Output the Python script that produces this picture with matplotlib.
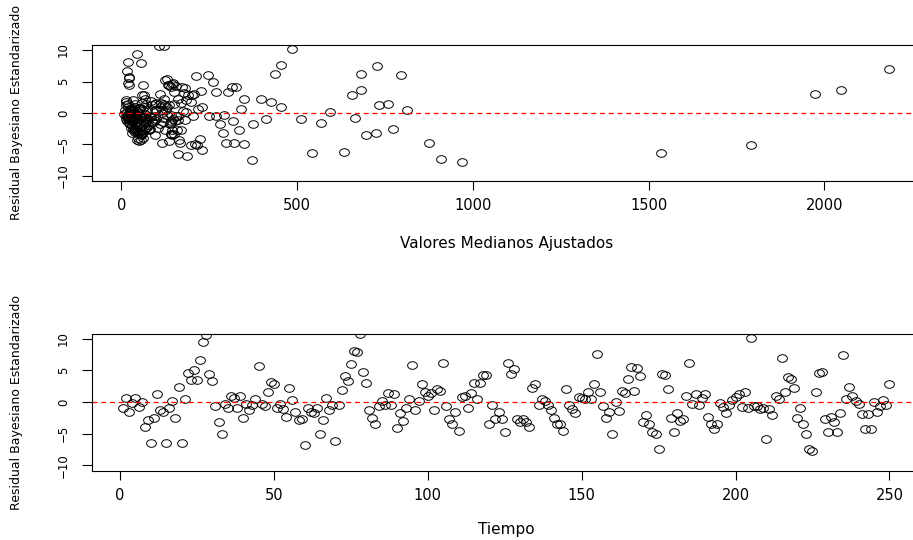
import numpy as np
import matplotlib
matplotlib.use('Agg')
import matplotlib.pyplot as plt
from matplotlib.path import Path

plt.rcParams['font.family'] = ['DejaVu Sans']

# residuos bayesianos estandarizados, uno por periodo (t = 1..250)
tiempo = np.arange(1, 251)
residuos = [
    -1.0, 0.65, -1.5, -0.2, 0.65, -0.8, -0.05, -3.9, -2.8, -6.5,
    -2.6, 1.3, -1.25, -1.6, -6.4, -0.9, 0.1, -2.5, 2.3, -6.4,
    0.55, 4.5, 3.4, 5.0, 3.5, 6.6, 9.4, 10.6, 4.4, 3.3,
    -0.7, -3.2, -5.0, -0.3, -1.0, 0.9, 0.65, -1.0, 0.9, -2.5,
    -0.3, -1.2, -0.4, 0.55, 5.7, -0.3, -0.7, 1.5, 3.1, 2.9,
    -0.9, -0.3, -1.15, -2.3, 2.2, 0.3, -1.5, -2.8, -2.7, -6.8,
    -1.0, -1.5, -1.8, -1.0, -5.1, -2.9, 0.7, -1.25, -0.4, -6.2,
    -0.4, 1.9, 4.1, 3.3, 6.0, 8.1, 7.9, 10.7, 4.7, 3.05,
    -1.3, -2.45, -3.4, -0.7, 0.15, -0.5, 1.35, -0.55, 1.2, -4.1,
    -1.8, -3.05, -1.0, 0.45, 5.8, -1.3, 0.15, 2.9, 1.6, 0.9,
    1.35, -1.3, 2.0, 1.7, 6.1, -0.7, -2.7, -3.4, -1.6, -4.5,
    0.75, 1.0, -0.9, 1.35, 3.0, 0.55, 3.05, 4.2, 4.2, -3.5,
    -0.55, -2.7, -1.6, -2.7, -4.7, 6.2, 4.4, 5.2, -2.7, -3.1,
    -2.7, -3.1, -3.9, 2.2, 2.9, -0.45, 0.4, 0.15, -0.4, -1.25,
    -2.45, -3.5, -3.5, -4.5, 2.1, -0.5, -1.15, -1.8, 0.8, 0.7,
    0.4, 1.5, 0.4, 2.9, 7.6, 1.65, -0.7, -2.55, -1.5, -5.1,
    -0.05, -1.4, 1.7, 1.35, 3.65, 5.5, 1.75, 5.4, 4.1, -3.1,
    -2.05, -3.4, -4.8, -5.0, -7.35, 4.4, 4.3, 2.0, -2.55, -4.75,
    -1.7, -3.0, -2.7, 0.9, 6.2, -0.3, 1.2, -0.55, 0.6, 1.3,
    -2.35, -3.5, -4.25, -3.4, -0.15, -0.8, -1.75, -0.4, 0.3, 0.8,
    1.25, -0.8, 1.5, -0.9, 10.1, -0.7, -0.6, -1.15, -1.0, -5.9,
    -1.1, -2.0, 1.0, 0.5, 7.0, 1.65, 3.9, 3.65, 2.2, -2.55,
    -1.0, -3.4, -5.1, -7.45, -7.8, 1.65, 4.6, 4.75, -2.7, -4.8,
    -2.35, -3.15, -4.7, -1.8, 7.45, 0.5, 2.3, 0.9, 0.15, -0.3,
    -1.9, -4.25, -1.9, -4.25, -0.05, -1.6, -0.7, 0.3, -0.45, 2.9,
]

# valores medianos ajustados del modelo, en el mismo orden
ajustados = [
    12, 30, 45, 8, 60, 18, 25, 48, 35, 162,
    40, 14, 70, 22, 542, 52, 36, 80, 397, 1534,
    95, 135, 150, 261, 226, 17, 46, 106, 62, 304,
    28, 58, 350, 293, 75, 110, 340, 42, 20, 66,
    130, 15, 55, 10, 21, 38, 85, 120, 178, 190,
    33, 140, 26, 72, 160, 44, 90, 46, 145, 188,
    19, 63, 38, 100, 215, 56, 24, 48, 12, 633,
    160, 85, 172, 270, 248, 20, 55, 121, 148, 110,
    32, 105, 60, 52, 16, 78, 40, 27, 125, 225,
    374, 44, 66, 812, 212, 319, 595, 60, 170, 36,
    95, 142, 13, 198, 795, 58, 336, 150, 569, 137,
    50, 230, 412, 760, 208, 30, 1974, 314, 140, 697,
    250, 170, 42, 64, 299, 438, 22, 125, 78, 289,
    158, 50, 62, 68, 200, 18, 115, 48, 270, 152,
    35, 145, 55, 50, 34, 96, 180, 26, 52, 218,
    128, 70, 25, 656, 455, 100, 66, 774, 118, 1792,
    40, 88, 14, 150, 681, 22, 426, 130, 326, 724,
    45, 142, 321, 210, 909, 132, 155, 185, 82, 168,
    281, 40, 60, 455, 681, 15, 86, 205, 40, 135,
    28, 96, 46, 140, 68, 665, 110, 30, 175, 54,
    732, 120, 18, 511, 486, 36, 62, 160, 24, 230,
    92, 44, 130, 72, 2185, 112, 180, 2048, 350, 32,
    148, 52, 198, 372, 969, 58, 145, 20, 125, 116,
    70, 30, 876, 138, 726, 98, 122, 64, 185, 42,
    76, 56, 30, 165, 115, 142, 82, 34, 155, 65,
]

yticks = [-10, -5, 0, 5, 10]
xticks_ajust = [0, 500, 1000, 1500, 2000]
xticks_tiempo = [0, 50, 100, 150, 200, 250]

# circulo abierto algo achatado como simbolo
theta = np.linspace(0, 2 * np.pi, 60)
ovalo = Path(np.column_stack([np.cos(theta), 0.78 * np.sin(theta)]), closed=True)

fig = plt.figure(figsize=(9.13, 5.4), dpi=100)
ax1 = fig.add_axes([0.1013, 0.6648, 0.9064, 0.2519])
ax2 = fig.add_axes([0.1013, 0.1287, 0.9064, 0.2537])


def panel(ax, x, y, xlim, xticks, xlabel, xlabel_y):
    ax.plot(x, y, linestyle='none', marker=ovalo, markersize=7.0,
            mfc='none', mec='black', mew=0.7)
    ax.axhline(0, color='red', linestyle=(0, (4, 3)), linewidth=0.9)
    ax.set_xlim(xlim)
    ax.set_ylim(-10.8, 10.8)
    ax.set_xticks(xticks)
    ax.set_yticks(yticks)
    ax.tick_params(axis='x', length=6.5, width=0.8, pad=6, labelsize=10.5)
    ax.tick_params(axis='y', length=7.2, width=0.8, pad=9, labelsize=8.5,
                   labelrotation=90)
    for lab in ax.get_yticklabels():
        lab.set_va('center')
    for s in ax.spines.values():
        s.set_linewidth(0.8)
    ax.set_xlabel(xlabel, fontsize=11, va='center')
    ax.xaxis.set_label_coords(0.5, xlabel_y)
    ax.set_ylabel('Residual Bayesiano Estandarizado', fontsize=9, va='center')
    ax.yaxis.set_label_coords(-0.0924, 0.5)


panel(ax1, ajustados, residuos, (-82, 2272), xticks_ajust,
      'Valores Medianos Ajustados', -0.456)
panel(ax2, tiempo, residuos, (-8.96, 259.96), xticks_tiempo,
      'Tiempo', -0.427)

fig.savefig('out.png', dpi=100)
